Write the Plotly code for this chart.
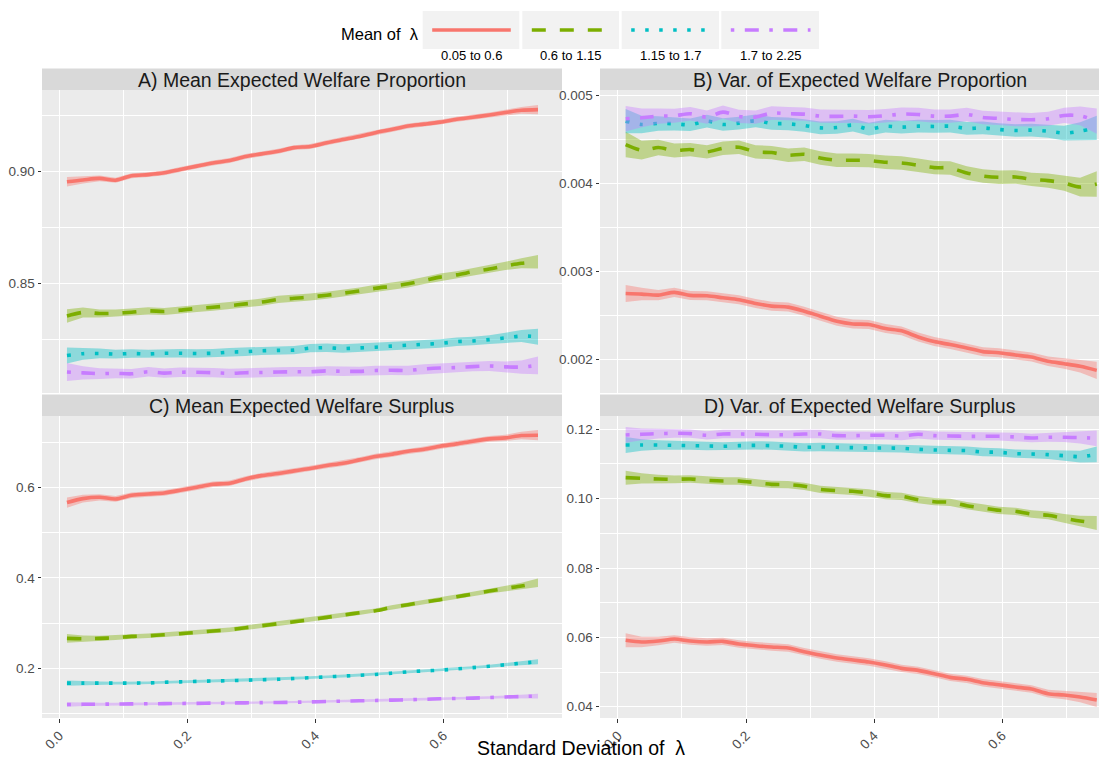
import plotly.graph_objects as go

# The page body has an 8px default margin, so the figure is sized to fill the
# rest of the 1107x760 window and every layout position is given in window pixels.
OFF = 8
W, H = 1107 - OFF, 760 - OFF

# ---------------- data ----------------
sd_lambda = [0.012, 0.037, 0.063, 0.088, 0.113, 0.139, 0.164, 0.189, 0.215, 0.240,
             0.266, 0.291, 0.316, 0.342, 0.367, 0.392, 0.418, 0.443, 0.469, 0.494,
             0.519, 0.545, 0.570, 0.595, 0.621, 0.646, 0.672, 0.697, 0.722, 0.748]

groups = ["0.05 to 0.6", "0.6 to 1.15", "1.15 to 1.7", "1.7 to 2.25"]

# A) Mean Expected Welfare Proportion
prop_mean_g1 = [0.8955, 0.8963, 0.8970, 0.8962, 0.8982, 0.8987, 0.8995, 0.9010, 0.9025, 0.9039,
                0.9050, 0.9068, 0.9080, 0.9092, 0.9108, 0.9113, 0.9130, 0.9144, 0.9158, 0.9175,
                0.9189, 0.9205, 0.9213, 0.9222, 0.9235, 0.9244, 0.9254, 0.9265, 0.9275, 0.9278]
prop_mean_g2 = [0.8354, 0.8370, 0.8365, 0.8366, 0.8371, 0.8377, 0.8374, 0.8380, 0.8388, 0.8393,
                0.8400, 0.8408, 0.8416, 0.8428, 0.8433, 0.8439, 0.8447, 0.8456, 0.8466, 0.8478,
                0.8487, 0.8498, 0.8513, 0.8528, 0.8538, 0.8552, 0.8564, 0.8578, 0.8590, 0.8597]
prop_mean_g3 = [0.8177, 0.8185, 0.8186, 0.8183, 0.8186, 0.8184, 0.8187, 0.8187, 0.8186, 0.8187,
                0.8192, 0.8194, 0.8198, 0.8200, 0.8201, 0.8210, 0.8212, 0.8208, 0.8211, 0.8214,
                0.8219, 0.8223, 0.8227, 0.8231, 0.8239, 0.8242, 0.8248, 0.8256, 0.8264, 0.8261]
prop_mean_g4 = [0.8103, 0.8099, 0.8096, 0.8097, 0.8095, 0.8104, 0.8098, 0.8102, 0.8102, 0.8100,
                0.8097, 0.8100, 0.8101, 0.8103, 0.8104, 0.8104, 0.8108, 0.8106, 0.8106, 0.8110,
                0.8111, 0.8110, 0.8117, 0.8121, 0.8123, 0.8127, 0.8130, 0.8126, 0.8125, 0.8133]

# B) Var. of Expected Welfare Proportion
prop_var_g1 = [0.002745, 0.002738, 0.002726, 0.002757, 0.002723, 0.002719, 0.002696, 0.002673, 0.002631, 0.002601,
               0.002590, 0.002544, 0.002487, 0.002430, 0.002399, 0.002392, 0.002346, 0.002320, 0.002251, 0.002198,
               0.002164, 0.002126, 0.002084, 0.002072, 0.002046, 0.002023, 0.001974, 0.001947, 0.001917, 0.001871]
prop_var_g2 = [0.004437, 0.004373, 0.004403, 0.004369, 0.004380, 0.004354, 0.004395, 0.004407, 0.004354, 0.004346,
               0.004316, 0.004327, 0.004285, 0.004259, 0.004259, 0.004255, 0.004236, 0.004228, 0.004202, 0.004175,
               0.004171, 0.004114, 0.004080, 0.004065, 0.004069, 0.004042, 0.004027, 0.004000, 0.003954, 0.003989]
prop_var_g3 = [0.004703, 0.004665, 0.004677, 0.004673, 0.004662, 0.004703, 0.004665, 0.004681, 0.004707, 0.004677,
               0.004673, 0.004654, 0.004627, 0.004631, 0.004658, 0.004612, 0.004646, 0.004635, 0.004646, 0.004643,
               0.004646, 0.004620, 0.004627, 0.004608, 0.004597, 0.004601, 0.004589, 0.004567, 0.004589, 0.004627]
prop_var_g4 = [0.004730, 0.004741, 0.004760, 0.004764, 0.004787, 0.004749, 0.004806, 0.004757, 0.004749, 0.004795,
               0.004787, 0.004783, 0.004760, 0.004757, 0.004760, 0.004753, 0.004764, 0.004783, 0.004779, 0.004760,
               0.004760, 0.004779, 0.004745, 0.004734, 0.004722, 0.004719, 0.004730, 0.004768, 0.004764, 0.004703]

# C) Mean Expected Welfare Surplus
surp_mean_g1 = [0.5670, 0.5758, 0.5788, 0.5751, 0.5832, 0.5862, 0.5884, 0.5943, 0.6010, 0.6076,
                0.6098, 0.6195, 0.6268, 0.6313, 0.6372, 0.6424, 0.6490, 0.6542, 0.6616, 0.6690,
                0.6741, 0.6808, 0.6852, 0.6919, 0.6970, 0.7030, 0.7081, 0.7103, 0.7155, 0.7163]
surp_mean_g2 = [0.2662, 0.2655, 0.2662, 0.2677, 0.2706, 0.2721, 0.2743, 0.2766, 0.2795, 0.2825,
                0.2854, 0.2899, 0.2943, 0.2988, 0.3032, 0.3076, 0.3128, 0.3179, 0.3231, 0.3275,
                0.3349, 0.3408, 0.3468, 0.3519, 0.3586, 0.3645, 0.3711, 0.3771, 0.3822, 0.3896]
surp_mean_g3 = [0.1672, 0.1672, 0.1672, 0.1672, 0.1672, 0.1675, 0.1690, 0.1700, 0.1710, 0.1718,
                0.1726, 0.1736, 0.1746, 0.1756, 0.1775, 0.1792, 0.1810, 0.1828, 0.1846, 0.1864,
                0.1892, 0.1922, 0.1942, 0.1958, 0.1987, 0.2015, 0.2046, 0.2079, 0.2113, 0.2145]
surp_mean_g4 = [0.1199, 0.1202, 0.1205, 0.1208, 0.1211, 0.1214, 0.1217, 0.1221, 0.1224, 0.1228,
                0.1231, 0.1235, 0.1239, 0.1243, 0.1248, 0.1256, 0.1264, 0.1272, 0.1280, 0.1288,
                0.1295, 0.1302, 0.1313, 0.1325, 0.1332, 0.1339, 0.1352, 0.1365, 0.1375, 0.1384]

# D) Var. of Expected Welfare Surplus
surp_var_g1 = [0.05914, 0.05866, 0.05894, 0.05952, 0.05894, 0.05866, 0.05885, 0.05808, 0.05760, 0.05721,
               0.05692, 0.05587, 0.05490, 0.05404, 0.05346, 0.05289, 0.05202, 0.05106, 0.05048, 0.04952,
               0.04846, 0.04789, 0.04692, 0.04635, 0.04567, 0.04510, 0.04375, 0.04337, 0.04279, 0.04192]
surp_var_g2 = [0.10606, 0.10587, 0.10567, 0.10558, 0.10567, 0.10529, 0.10510, 0.10510, 0.10462, 0.10413,
               0.10404, 0.10356, 0.10269, 0.10231, 0.10212, 0.10163, 0.10087, 0.10067, 0.09971, 0.09913,
               0.09894, 0.09798, 0.09731, 0.09664, 0.09635, 0.09558, 0.09519, 0.09433, 0.09356, 0.09298]
surp_var_g3 = [0.11548, 0.11548, 0.11548, 0.11538, 0.11529, 0.11519, 0.11510, 0.11529, 0.11538, 0.11529,
               0.11510, 0.11481, 0.11490, 0.11481, 0.11471, 0.11462, 0.11462, 0.11452, 0.11423, 0.11404,
               0.11394, 0.11385, 0.11346, 0.11337, 0.11298, 0.11288, 0.11269, 0.11240, 0.11212, 0.11279]
surp_var_g4 = [0.11837, 0.11856, 0.11875, 0.11885, 0.11875, 0.11827, 0.11865, 0.11865, 0.11856, 0.11846,
               0.11846, 0.11865, 0.11865, 0.11817, 0.11817, 0.11827, 0.11827, 0.11808, 0.11856, 0.11817,
               0.11808, 0.11798, 0.11798, 0.11798, 0.11779, 0.11750, 0.11769, 0.11769, 0.11760, 0.11740]

# confidence-band half widths (per group) and widening towards the ends
ci_prop_mean = [0.0011, 0.0016, 0.0019, 0.0021]
ci_prop_var = [0.000051, 0.000076, 0.000072, 0.000076]
ci_surp_mean = [0.0060, 0.0050, 0.0030, 0.0027]
ci_surp_var = [0.00106, 0.00106, 0.00120, 0.00120]
ci_flare = [1.9, 1.4, 1.15, 1.05, 1, 1, 1, 1, 1, 1, 1, 1, 1, 1, 1,
            1, 1, 1, 1, 1, 1, 1, 1, 1, 1, 1, 1.05, 1.15, 1.4, 1.9]

# ---------------- styling ----------------
colors = ["#F8766D", "#7CAE00", "#00BFC4", "#C77CFF"]
fill_rgba = ["rgba(248,118,109,0.4)", "rgba(124,174,0,0.4)",
             "rgba(0,191,196,0.4)", "rgba(199,124,255,0.4)"]
dashes = ["solid", "14px,14px", "3.5px,10.5px", "3.5px,10.5px,14px,10.5px"]
LW = 3.6
FONT = "Liberation Sans, Arial, sans-serif"


def fx(px):
    return (px - OFF) / W


def fy(py):
    return 1 - (py - OFF) / H


panels = [
    dict(key="", title="A) Mean Expected Welfare Proportion",
         series=[prop_mean_g1, prop_mean_g2, prop_mean_g3, prop_mean_g4], ci=ci_prop_mean,
         xpx=(42, 562), ypx=(90, 393), xr=[-0.027, 0.7855], yr=[0.8009, 0.9366],
         dtick=0.05, minor=0.025, fmt=".2f", xlab=False, tcx=302),
    dict(key="2", title="B) Var. of Expected Welfare Proportion",
         series=[prop_var_g1, prop_var_g2, prop_var_g3, prop_var_g4], ci=ci_prop_var,
         xpx=(600, 1107), ypx=(90, 393), xr=[-0.0281, 0.764], yr=[0.001614, 0.005057],
         dtick=0.001, minor=0.0005, fmt=".3f", xlab=False, tcx=860),
    dict(key="3", title="C) Mean Expected Welfare Surplus",
         series=[surp_mean_g1, surp_mean_g2, surp_mean_g3, surp_mean_g4], ci=ci_surp_mean,
         xpx=(42, 562), ypx=(416, 718), xr=[-0.027, 0.7855], yr=[0.0899, 0.7588],
         dtick=0.2, minor=0.1, fmt=".1f", xlab=True, tcx=302),
    dict(key="4", title="D) Var. of Expected Welfare Surplus",
         series=[surp_var_g1, surp_var_g2, surp_var_g3, surp_var_g4], ci=ci_surp_var,
         xpx=(600, 1107), ypx=(416, 718), xr=[-0.0281, 0.764], yr=[0.03674, 0.12384],
         dtick=0.02, minor=0.01, fmt=".2f", xlab=True, tcx=860),
]

fig = go.Figure()
shapes = []
annotations = []
layout_axes = {}

for p in panels:
    k = p["key"]
    xa, ya = "x" + k, "y" + k
    for gi, vals in enumerate(p["series"]):
        half = [p["ci"][gi] * f for f in ci_flare]
        upper = [v + h for v, h in zip(vals, half)]
        lower = [v - h for v, h in zip(vals, half)]
        fig.add_trace(go.Scatter(
            x=sd_lambda + sd_lambda[::-1], y=upper + lower[::-1],
            fill="toself", fillcolor=fill_rgba[gi], line=dict(width=0),
            mode="lines", hoverinfo="skip", showlegend=False, xaxis=xa, yaxis=ya))
        fig.add_trace(go.Scatter(
            x=sd_lambda, y=vals, mode="lines",
            line=dict(color=colors[gi], width=LW, dash=dashes[gi], shape="spline", smoothing=0.8),
            name=groups[gi], showlegend=False, xaxis=xa, yaxis=ya))

    x0, x1 = p["xpx"]
    y0, y1 = p["ypx"]
    layout_axes["xaxis" + k] = dict(
        domain=[fx(x0), min(1.0, fx(x1))], anchor=ya, range=p["xr"],
        tick0=0, dtick=0.2, tickformat=".1f",
        showticklabels=p["xlab"], ticks="outside" if p["xlab"] else "",
        ticklen=3.5, tickwidth=1, tickcolor="#333333", tickangle=-45,
        tickfont=dict(family=FONT, size=13.5, color="#4D4D4D"),
        showgrid=True, gridcolor="white", gridwidth=1.1,
        minor=dict(dtick=0.1, tick0=0, showgrid=True, gridcolor="white", gridwidth=0.55, ticks=""),
        zeroline=False, showline=False, automargin=False, fixedrange=True)
    layout_axes["yaxis" + k] = dict(
        domain=[fy(y1), fy(y0)], anchor=xa, range=p["yr"],
        tick0=0, dtick=p["dtick"], tickformat=p["fmt"],
        ticks="outside", ticklen=3.5, tickwidth=1, tickcolor="#333333",
        tickfont=dict(family=FONT, size=13.5, color="#4D4D4D"),
        showgrid=True, gridcolor="white", gridwidth=1.1,
        minor=dict(dtick=p["minor"], tick0=0, showgrid=True, gridcolor="white", gridwidth=0.55, ticks=""),
        zeroline=False, showline=False, automargin=False, fixedrange=True)

    # strip
    strip_top = y0 - 21.5
    shapes.append(dict(type="rect", xref="paper", yref="paper",
                       x0=fx(x0), x1=min(1.0, fx(x1)), y0=fy(y0), y1=fy(strip_top),
                       fillcolor="#D9D9D9", line=dict(width=0), layer="below"))
    annotations.append(dict(text=p["title"], xref="paper", yref="paper",
                            x=fx(p["tcx"]), y=fy((y0 + strip_top) / 2 + 0.5),
                            xanchor="center", yanchor="middle", showarrow=False,
                            font=dict(family=FONT, size=19.5, color="#1A1A1A")))

# x axis title
annotations.append(dict(text="Standard Deviation of\u00a0 λ", xref="paper", yref="paper",
                        x=fx(581), y=fy(748), xanchor="center", yanchor="middle", showarrow=False,
                        font=dict(family=FONT, size=19.5, color="#000000")))

# legend (drawn manually, ggplot-style)
annotations.append(dict(text="Mean of\u00a0 λ", xref="paper", yref="paper",
                        x=fx(421), y=fy(34), xanchor="right", yanchor="middle", showarrow=False,
                        font=dict(family=FONT, size=16.5, color="#000000")))
key_boxes = [(422.7, 519.3), (522.3, 619.0), (621.7, 719.0), (721.3, 819.0)]
for gi, (bx0, bx1) in enumerate(key_boxes):
    shapes.append(dict(type="rect", xref="paper", yref="paper",
                       x0=fx(bx0), x1=fx(bx1), y0=fy(49), y1=fy(11),
                       fillcolor="#F2F2F2", line=dict(width=0)))
    shapes.append(dict(type="line", xref="paper", yref="paper",
                       x0=fx(bx0 + 9.5), x1=fx(bx1 - 8.5), y0=fy(30), y1=fy(30),
                       line=dict(color=colors[gi], width=LW, dash=dashes[gi])))
    annotations.append(dict(text=groups[gi], xref="paper", yref="paper",
                            x=fx((bx0 + bx1) / 2), y=fy(56), xanchor="center", yanchor="middle",
                            showarrow=False, font=dict(family=FONT, size=13, color="#000000")))

fig.update_layout(
    width=W, height=H,
    margin=dict(l=0, r=0, t=0, b=0),
    paper_bgcolor="white", plot_bgcolor="#EBEBEB",
    showlegend=False,
    shapes=shapes, annotations=annotations,
    font=dict(family=FONT),
    **layout_axes)

fig.write_html("out.html")
